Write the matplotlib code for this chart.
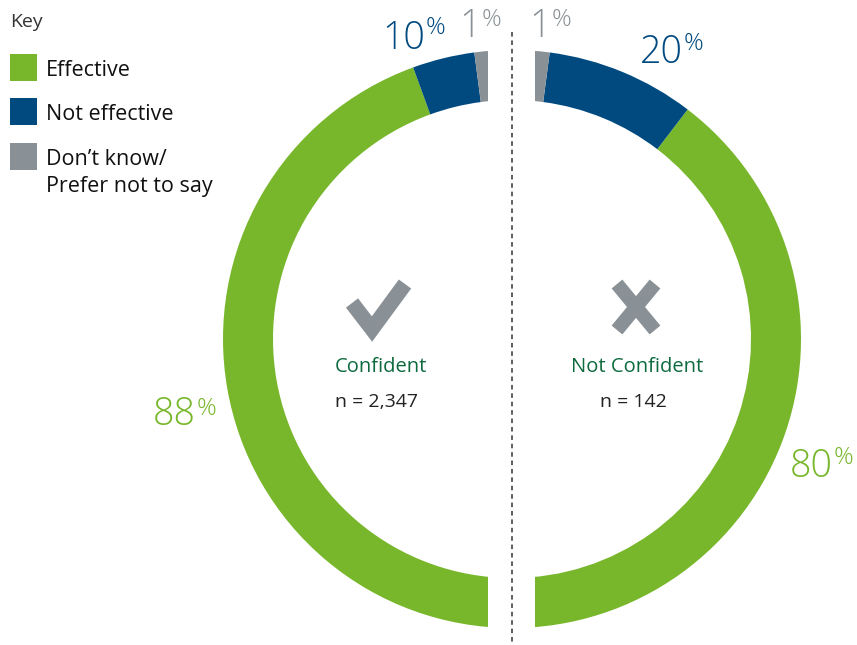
import matplotlib.pyplot as plt
from matplotlib.patches import Wedge, Rectangle

plt.rcParams["font.family"] = ["Open Sans", "DejaVu Sans"]

# data
categories = ["Effective", "Not effective", "Don\u2019t know/\nPrefer not to say"]
colors = ["#78B72B", "#004A80", "#8A9196"]
confident_vals = [88, 10, 1]
not_confident_vals = [80, 20, 1]
groups = ["Confident", "Not Confident"]
group_n = ["n = 2,347", "n = 142"]

# geometry (pixel coords, y down)
CX, CY = 512, 339
R_OUT, WIDTH = 289, 50
GAP = 23.5
MIN_GREY = 7.5  # degrees, so the small slice shows beside the gap


def half_angles(vals):
    """split 180 degrees: green from the bottom, grey at the top, blue in between."""
    total = sum(vals)
    g = vals[0] / total * 180
    k = max(vals[2] / total * 180, MIN_GREY)
    return g, k


fig = plt.figure(figsize=(8.57, 6.45), dpi=100)
ax = fig.add_axes([0, 0, 1, 1])
ax.set_xlim(0, 857)
ax.set_ylim(645, 0)
ax.axis("off")

# left half (screen angles, counter-clockwise, y up) -> data angles are negated
g, k = half_angles(confident_vals)
spans_left = [(270 - g, 270), (90 + k, 270 - g), (90, 90 + k)]
for (a, b), c in zip(spans_left, colors):
    ax.add_patch(Wedge((CX, CY), R_OUT, -b, -a, width=WIDTH, facecolor=c, edgecolor="none"))

g, k = half_angles(not_confident_vals)
spans_right = [(-90, -90 + g), (-90 + g, 90 - k), (90 - k, 90)]
for (a, b), c in zip(spans_right, colors):
    ax.add_patch(Wedge((CX, CY), R_OUT, -b, -a, width=WIDTH, facecolor=c, edgecolor="none"))

# gap down the middle
ax.add_patch(Rectangle((CX - GAP, 40), 2 * GAP, 600, facecolor="white", edgecolor="none", zorder=3))
ax.plot([CX, CX], [32, 645], color="#333333", lw=1.1, ls=(0, (3, 2.5)), zorder=4)

# percentage labels: number + raised %
# (value, colour, split x, digit baseline, % top)
labels = [
    (confident_vals[0], colors[0], 196, 425, 397),
    (confident_vals[1], colors[1], 425, 49, 16),
    (confident_vals[2], colors[2], 481, 37, 8),
    (not_confident_vals[2], colors[2], 551, 37, 8),
    (not_confident_vals[1], colors[1], 683, 63, 32),
    (not_confident_vals[0], colors[0], 833, 477, 446),
]
for v, c, x, base, top in labels:
    ax.text(x, base, f"{v}", color=c, fontsize=27, fontweight="light",
            ha="right", va="baseline", zorder=5)
    ax.text(x + 1, top, "%", color=c, fontsize=17.5, fontweight="light",
            ha="left", va="top", zorder=5)

# icons
ax.plot([352, 372, 405], [303, 329, 284], color="#8A9196", lw=11,
        solid_capstyle="butt", solid_joinstyle="miter")
ax.plot([617, 655], [284, 330], color="#8A9196", lw=10, solid_capstyle="butt")
ax.plot([655, 617], [284, 330], color="#8A9196", lw=10, solid_capstyle="butt")

# centre captions
for x, name, n in zip([381, 637], groups, group_n):
    ax.text(x, 367, name, color="#0D6A3E", fontsize=14.5, ha="center", va="center")
    ax.text(x - 4, 402, n, color="#222222", fontsize=14, ha="center", va="center")

# key
ax.text(10, 22, "Key", color="#333333", fontsize=14, ha="left", va="center")
key_y = [67, 111, 156]
for y, c, lab in zip(key_y, colors, categories):
    ax.add_patch(Rectangle((10, y - 13.5), 27, 27, facecolor=c, edgecolor="none"))
    ax.text(46, y - 7, lab, color="#111111", fontsize=15.5, ha="left", va="top",
            linespacing=1.4)

fig.savefig("out.png", dpi=100)
